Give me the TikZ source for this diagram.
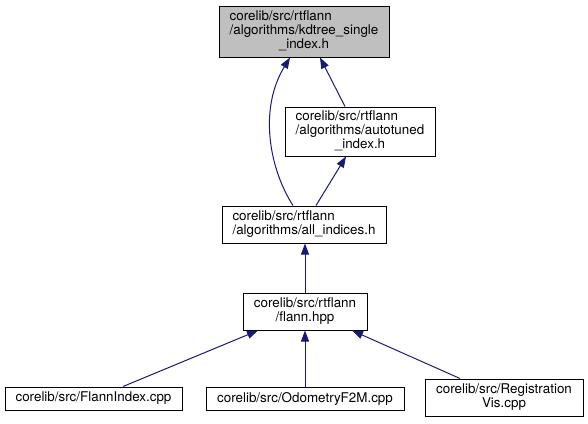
\documentclass[tikz,border=0pt]{standalone}
\usepackage{fontspec}
\setmainfont{TeX Gyre Heros}
\usetikzlibrary{arrows.meta}
\definecolor{edgeblue}{HTML}{191970}
\definecolor{rootgray}{HTML}{BFBFBF}
\newcommand{\lastline}[1]{\multicolumn{1}{@{}c@{}}{#1}}
\newcommand{\filename}[1]{\begin{tabular}{@{}l@{}}#1\end{tabular}}
\tikzset{
    file/.style={draw=black, line width=1pt, fill=white, inner sep=0pt, font=\fontsize{13.4}{14}\selectfont},
    edge/.style={draw=edgeblue, line width=1pt, -{Triangle[length=11pt,width=8pt]}}
}

\begin{document}
\begin{tikzpicture}[x=1pt,y=-1pt]
        \useasboundingbox (0,0) rectangle (588,423);
        \node[file, fill=rootgray, minimum width=170pt, minimum height=51pt] (kd) at (304,31.5) {\filename{corelib/src/rtflann\\/algorithms/kdtree\_single\\\lastline{\_index.h}}};
        \node[file, minimum width=150pt, minimum height=49pt] (auto) at (360,131.5) {\filename{corelib/src/rtflann\\/algorithms/autotuned\\\lastline{\_index.h}}};
        \node[file, minimum width=164pt, minimum height=37pt] (all) at (304,224.5) {\filename{corelib/src/rtflann\\/algorithms/all\_indices.h}};
        \node[file, minimum width=124pt, minimum height=37pt] (flann) at (305,311.5) {\filename{\lastline{corelib/src/rtflann}\\\lastline{/flann.hpp}}};
        \node[file, minimum width=177pt, minimum height=23pt] (fi) at (93.5,398.5) {corelib/src/FlannIndex.cpp};
        \node[file, minimum width=198pt, minimum height=23pt] (od) at (305,398.5) {corelib/src/OdometryF2M.cpp};
        \node[file, minimum width=158pt, minimum height=37pt] (reg) at (504,397.5) {\filename{\lastline{corelib/src/Registration}\\\lastline{Vis.cpp}}};
        \draw[edge] ([xshift=-15pt]auto.north) -- ([xshift=16pt]kd.south);
        \draw[edge] ([xshift=-11pt]all.north) .. controls (270,170) and (258,110) .. ([xshift=-14pt]kd.south);
        \draw[edge] ([xshift=12pt]all.north) -- ([xshift=-14pt]auto.south);
        \draw[edge] (flann.north) -- (flann.north |- all.south);
        \draw[edge] ([xshift=29.5pt]fi.north) -- ([xshift=-47pt]flann.south);
        \draw[edge] (od.north) -- (flann.south);
        \draw[edge] ([xshift=-44pt]reg.north) -- ([xshift=47pt]flann.south);
    \end{tikzpicture}
\end{document}
